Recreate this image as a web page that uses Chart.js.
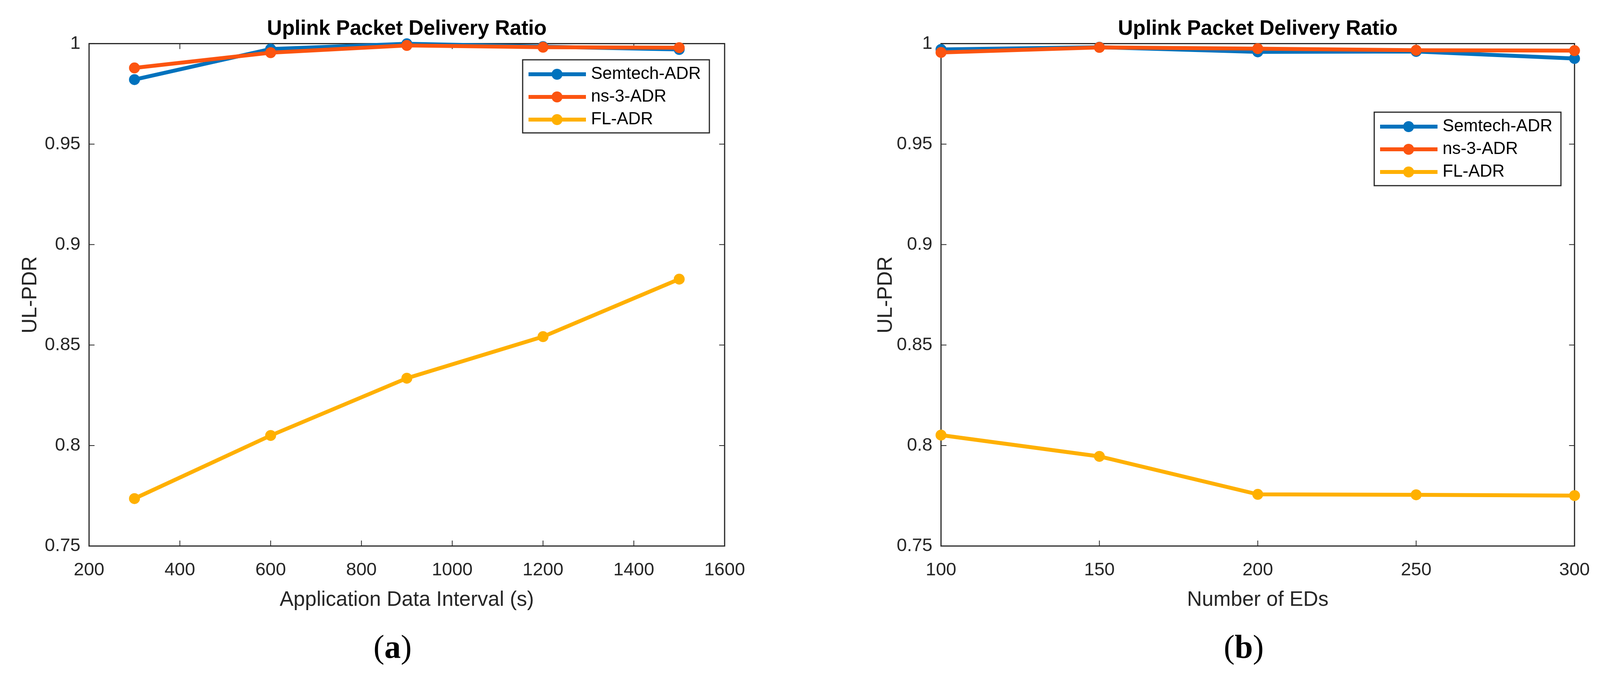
<!DOCTYPE html>
<html>
<head>
<meta charset="utf-8">
<script src="https://cdn.jsdelivr.net/npm/chart.js@4.4.1/dist/chart.umd.min.js"></script>
<style>
  html, body { margin: 0; padding: 0; background: #fff; }
  body { width: 4104px; height: 1727px; position: relative; overflow: hidden; }
  canvas { position: absolute; top: 0; }
  #chartA { left: 0; }
  #chartB { left: 2181px; }
  .caption { position: absolute; top: 1613px; width: 400px; text-align: center;
             font: 84px 'Liberation Serif', 'DejaVu Serif', serif; line-height: 1; color: #000; }
</style>
</head>
<body>
<canvas id="chartA" width="2000" height="1600"></canvas>
<canvas id="chartB" width="1923" height="1600"></canvas>
<div class="caption" style="left:805px">(<b>a</b>)</div>
<div class="caption" style="left:2984px">(<b>b</b>)</div>
<script>
// Series names and colours
const seriesNames = ['Semtech-ADR', 'ns-3-ADR', 'FL-ADR'];
const seriesColors = ['#0072BD', '#FC5410', '#FFB000'];

// (a) UL-PDR vs application data interval
const intervals = [300, 600, 900, 1200, 1500];
const semtechA = [0.9821, 0.9973, 0.9999, 0.9985, 0.9971];
const ns3A     = [0.9879, 0.9955, 0.9991, 0.9982, 0.9980];
const flA      = [0.7736, 0.8050, 0.8335, 0.8542, 0.8828];

// (b) UL-PDR vs number of EDs
const edCounts = [100, 150, 200, 250, 300];
const semtechB = [0.9971, 0.9982, 0.9959, 0.9961, 0.9926];
const ns3B     = [0.9956, 0.9981, 0.9975, 0.9967, 0.9965];
const flB      = [0.8052, 0.7946, 0.7757, 0.7755, 0.7751];

// Tick labels
const yTicks  = [0.75, 0.8, 0.85, 0.9, 0.95, 1];
const xTicksA = [200, 400, 600, 800, 1000, 1200, 1400, 1600];
const xTicksB = [100, 150, 200, 250, 300];

Chart.defaults.font.family = "'Liberation Sans', Arial, Helvetica, sans-serif";
Chart.defaults.color = '#262626';

// Legend icon: line with a marker in the middle (MATLAB style)
function legendIcon(color) {
  const c = document.createElement('canvas');
  c.width = 168; c.height = 40;
  const g = c.getContext('2d');
  g.strokeStyle = color; g.lineWidth = 10;
  g.beginPath(); g.moveTo(21, 20); g.lineTo(168, 20); g.stroke();
  g.fillStyle = color;
  g.beginPath(); g.arc(94, 20, 14, 0, 2 * Math.PI); g.fill();
  return c;
}
const icons = seriesColors.map(legendIcon);

// Box around the axes, inward ticks, legend placement and frame
const boxPlugin = {
  id: 'matlabBox',
  afterLayout(chart, args, opts) {
    const lg = chart.legend, b = opts.legendBox;
    lg.left = b.x - 11;
    lg.top = b.y + 1;
    lg.right = b.x + b.w;
    lg.bottom = b.y + b.h + 200;
    lg.width = lg.right - lg.left;
    lg.height = lg.bottom - lg.top;
  },
  beforeDatasetsDraw(chart) {
    const {ctx, chartArea: a, scales: {x, y}} = chart;
    ctx.save();
    ctx.strokeStyle = '#262626';
    ctx.lineWidth = 2;
    ctx.beginPath();
    x.ticks.forEach(t => {
      const px = x.getPixelForValue(t.value);
      ctx.moveTo(px, a.bottom); ctx.lineTo(px, a.bottom - 14);
      ctx.moveTo(px, a.top); ctx.lineTo(px, a.top + 14);
    });
    y.ticks.forEach(t => {
      const py = y.getPixelForValue(t.value);
      ctx.moveTo(a.left, py); ctx.lineTo(a.left + 14, py);
      ctx.moveTo(a.right, py); ctx.lineTo(a.right - 14, py);
    });
    ctx.stroke();
    ctx.lineWidth = 3;
    ctx.strokeRect(a.left, a.top, a.width, a.height);
    ctx.restore();
  },
  afterDraw(chart, args, opts) {
    const b = opts.legendBox, ctx = chart.ctx;
    ctx.save();
    ctx.strokeStyle = '#262626';
    ctx.lineWidth = 3;
    ctx.strokeRect(b.x, b.y, b.w, b.h);
    ctx.restore();
  }
};

function makeDataset(i, xs, ys) {
  return {
    label: seriesNames[i],
    data: xs.map((x, k) => ({x: x, y: ys[k]})),
    borderColor: seriesColors[i],
    backgroundColor: seriesColors[i],
    pointBackgroundColor: seriesColors[i],
    pointBorderColor: seriesColors[i],
    borderWidth: 10,
    pointRadius: 12,
    pointBorderWidth: 4,
    tension: 0,
    clip: false,
    order: 3 - i
  };
}

function makeChart(id, xs, series, xTicks, xLabel, rightPad, yTitlePad, legendBox) {
  const ctx = document.getElementById(id).getContext('2d');
  return new Chart(ctx, {
    type: 'line',
    data: { datasets: series.map((ys, i) => makeDataset(i, xs, ys)) },
    plugins: [boxPlugin],
    options: {
      responsive: false,
      animation: false,
      devicePixelRatio: 1,
      events: [],
      layout: { padding: { left: 0, right: rightPad, top: 0, bottom: 0 } },
      scales: {
        x: {
          type: 'linear',
          min: xTicks[0],
          max: xTicks[xTicks.length - 1],
          afterBuildTicks: s => { s.ticks = xTicks.map(v => ({value: v})); },
          afterFit: s => { s.height = 203; },
          grid: { display: false, drawTicks: false },
          border: { display: false },
          ticks: { font: { size: 47 }, padding: 34, maxRotation: 0, autoSkip: false,
                   callback: v => String(v) },
          title: { display: true, text: xLabel, font: { size: 53 },
                   padding: { top: 0, bottom: 33 } }
        },
        y: {
          type: 'linear',
          min: yTicks[0],
          max: yTicks[yTicks.length - 1],
          afterBuildTicks: s => { s.ticks = yTicks.map(v => ({value: v})); },
          afterFit: s => { s.width = 228; },
          grid: { display: false, drawTicks: false },
          border: { display: false },
          ticks: { font: { size: 47 }, padding: 22, autoSkip: false,
                   callback: v => String(v) },
          title: { display: true, text: 'UL-PDR', font: { size: 53 },
                   padding: { top: yTitlePad, bottom: 0 } }
        }
      },
      plugins: {
        title: {
          display: true,
          text: 'Uplink Packet Delivery Ratio',
          fullSize: false,
          color: '#000',
          font: { size: 53, weight: 'bold' },
          padding: { top: 43, bottom: 5 }
        },
        legend: {
          position: 'chartArea',
          align: 'start',
          labels: {
            font: { size: 44 },
            color: '#000',
            padding: 14,
            usePointStyle: true,
            pointStyleWidth: 150,
            generateLabels(chart) {
              const items = Chart.defaults.plugins.legend.labels.generateLabels(chart);
              items.sort((a, b) => a.datasetIndex - b.datasetIndex);
              items.forEach(it => { it.pointStyle = icons[it.datasetIndex]; it.fontColor = '#000'; });
              return items;
            }
          }
        },
        tooltip: { enabled: false },
        matlabBox: { legendBox: legendBox }
      }
    }
  });
}

makeChart('chartA', intervals, [semtechA, ns3A, flA], xTicksA,
  'Application Data Interval (s)', 145, 47, {x: 1338, y: 153, w: 478, h: 187});
makeChart('chartB', edCounts, [semtechB, ns3B, flB], xTicksB,
  'Number of EDs', 68, 56, {x: 1337, y: 287, w: 478, h: 188});
</script>
</body>
</html>
